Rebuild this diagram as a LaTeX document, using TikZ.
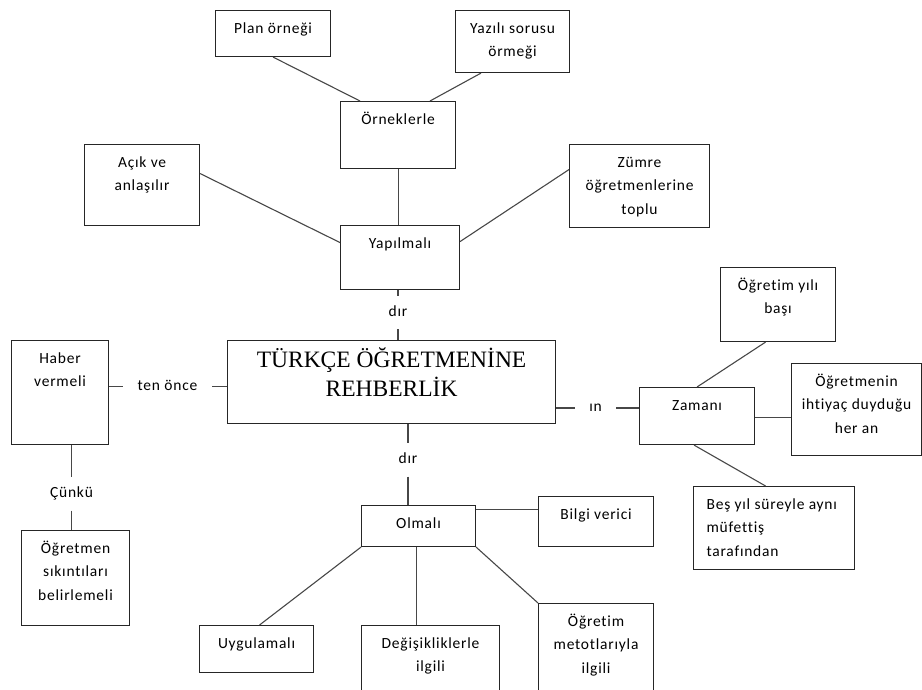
\documentclass[tikz,border=0pt]{standalone}
\usepackage{fontspec}
\setmainfont{Carlito}[LetterSpace=5, Ligatures=NoCommon]
\newfontfamily\titlefont{Liberation Serif}
\newcommand\boxfont{\fontsize{15.5}{23.5}\selectfont}
% \cbox[alignment]{name}{x1}{y1}{x2}{y2}{text}: a framed box with its text set from the top
\newcommand\cbox[7][\centering]{%
  \node[box] (#2) at (#3,#4) {\parbox[t][\dimexpr #6pt-#4pt\relax][t]{\dimexpr #5pt-#3pt\relax}{\boxfont#1\rule{0pt}{22.5pt}#7}};}
\begin{document}
\begin{tikzpicture}[x=1pt,y=-1pt,
  box/.style={draw=black!85, line width=1.1pt, inner sep=0pt, anchor=north west},
  link/.style={draw=black!72, line width=1.1pt},
  lbl/.style={inner xsep=0pt, inner ysep=10pt, text height=10pt, text depth=3pt, font=\fontsize{15.5}{17}\selectfont},
  lblgap/.style={minimum width=#1}]
\useasboundingbox (0,0) rectangle (922,690);

% boxes
\cbox{plan}{215}{10}{330}{56}{Plan örneği}
\cbox{yazili}{455}{10}{569}{72}{Yazılı sorusu\\örmeği}
\cbox{ornek}{340}{101}{455}{168}{Örneklerle}
\cbox{acik}{84}{144}{199}{225}{Açık ve\\anlaşılır}
\cbox{zumre}{569}{144}{709}{227}{Zümre\\öğretmenlerine\\toplu}
\cbox{yap}{340}{225}{459}{289}{Yapılmalı}
\node[box] (main) at (227,340) {\parbox[t][83pt][t]{328pt}{\titlefont\fontsize{23.5}{29}\selectfont\centering\rule{0pt}{27pt}TÜRKÇE ÖĞRETMENİNE\\REHBERLİK}};
\cbox{haber}{11}{340}{108}{444}{Haber\\vermeli}
\cbox{sikinti}{21}{530}{129}{625}{Öğretmen\\sıkıntıları\\belirlemeli}
\cbox{olmali}{361}{505}{475}{546}{Olmalı}
\cbox{bilgi}{538}{496}{653}{546}{Bilgi verici}
\cbox{uyg}{199}{625}{313}{672}{Uygulamalı}
\cbox{degis}{361}{625}{499}{700}{Değişikliklerle\\ilgili}
\cbox{metot}{538}{603}{653}{700}{Öğretim\\metotlarıyla\\ilgili}
\cbox{zaman}{639}{387}{754}{444}{Zamanı}
\cbox{yilbasi}{720}{267}{835}{341}{Öğretim yılı\\başı}
\cbox{ihtiyac}{791}{363}{921}{455}{Öğretmenin\\ihtiyaç duyduğu\\her an}
\cbox[\raggedright\leftskip=13pt]{bes}{693}{486}{854}{569}{Beş yıl süreyle aynı\\müfettiş\\tarafından}

% connector labels, each as wide as the gap it leaves in its line
\node[lbl, lblgap=33pt] (dirA) at (398,312.5) {dır};
\node[lbl, lblgap=34pt] (dirB) at (408,460) {dır};
\node[lbl, lblgap=89pt] (tenonce) at (167.5,386.5) {ten önce};
\node[lbl, lblgap=34pt] (cunku) at (71.5,494) {Çünkü};
\node[lbl, lblgap=41pt] (in) at (595.5,408) {ın};

% connectors
\draw[link] (plan.south) -- ([xshift=20pt]ornek.north west);
\draw[link] ([xshift=26pt]yazili.south west) -- ([xshift=90pt]ornek.north west);
\draw[link] (ornek.south) -- (ornek.south |- yap.north);
\draw[link] ([yshift=11.5pt]acik.east) -- ([yshift=15pt]yap.west);
\draw[link] ([yshift=16.5pt]zumre.west) -- ([yshift=16pt]yap.east);

\draw[link] (yap.south -| dirA) -- (dirA) -- (dirA |- main.north);
\draw[link] (dirB |- main.south) -- (dirB) -- (dirB |- olmali.north);
\draw[link] (haber.east |- tenonce) -- (tenonce) -- (tenonce -| main.west);
\draw[link] (cunku |- haber.south) -- (cunku) -- (cunku |- sikinti.north);
\draw[link] (main.east |- in) -- (in) -- (in -| zaman.west);

\draw[link] (zaman.north) -- ([xshift=-12.5pt]yilbasi.south);
\draw[link] ([yshift=-1pt]zaman.east) -- ([yshift=-1pt]zaman.east -| ihtiyac.west);
\draw[link] ([xshift=-3pt]zaman.south) -- ([xshift=-8.5pt]bes.north);

\draw[link] ([yshift=16.5pt]olmali.east) -- ([yshift=16.5pt]olmali.east -| bilgi.west);
\draw[link] (olmali.south west) -- ([xshift=3pt]uyg.north);
\draw[link] ([xshift=-2pt]olmali.south) -- ([xshift=-2pt]olmali.south |- degis.north);
\draw[link] (olmali.south east) -- (metot.north west);
\end{tikzpicture}
\end{document}
